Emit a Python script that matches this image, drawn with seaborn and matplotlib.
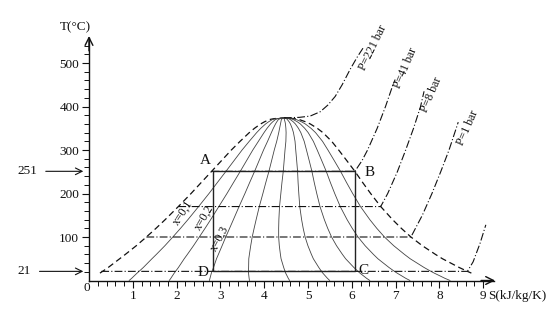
import matplotlib
matplotlib.use("Agg")
import matplotlib.pyplot as plt
import seaborn as sns

# ---------------- data ----------------
# saturation dome: temperature (°C), liquid and vapour entropy (kJ/kg/K)
T_sat = [0.01, 5, 10, 17, 21, 30, 40, 50, 60, 80, 100, 120, 140, 160, 170,
         200, 225, 251, 275, 300, 320, 340, 350, 360, 365, 370, 372, 374]
s_liq = [0.00, 0.08, 0.15, 0.25, 0.31, 0.44, 0.57, 0.70, 0.83, 1.08, 1.31,
         1.53, 1.74, 1.94, 2.04, 2.33, 2.56, 2.80, 3.02, 3.25, 3.45, 3.66,
         3.78, 3.92, 4.01, 4.12, 4.22, 4.45]
s_vap = [9.16, 9.02, 8.90, 8.73, 8.64, 8.45, 8.26, 8.07, 7.91, 7.61, 7.35,
         7.13, 6.93, 6.75, 6.66, 6.43, 6.25, 6.07, 5.89, 5.70, 5.54, 5.34,
         5.21, 5.05, 4.94, 4.80, 4.70, 4.45]
dome_start_T = 17

# vapour-quality lines drawn inside the dome
qualities = [0.1, 0.2, 0.3, 0.4, 0.5, 0.6, 0.7, 0.8, 0.9]
quality_labels = ["x=0,1", "x=0,2", "x=0,3"]

# isobars (entropy, temperature)
p_0025_s = [0.28, 8.64, 8.77, 8.93, 9.06]
p_0025_T = [21, 21, 43, 86, 128]
p_1_s = [1.31, 7.35, 7.61, 7.83, 8.03, 8.22, 8.43]
p_1_T = [100, 100, 150, 200, 250, 300, 364]
p_8_s = [2.04, 6.66, 6.82, 7.04, 7.23, 7.41, 7.57, 7.65]
p_8_T = [170, 170, 200, 250, 300, 350, 400, 435]
p_41_s = [2.80, 6.07, 6.23, 6.36, 6.58, 6.77, 6.94, 6.99]
p_41_T = [251, 251, 275, 300, 350, 400, 450, 462]
p_221_s = [4.45, 4.80, 5.05, 5.28, 5.45, 5.62, 5.78, 5.96, 6.12, 6.28]
p_221_T = [374, 375, 378, 388, 403, 423, 450, 485, 513, 538]
pressure_labels = ["P=221 bar", "P=41 bar", "P=8 bar", "P=1 bar"]

# cycle A-B-C-D
cycle_names = ["A", "B", "C", "D"]
cycle_s = [2.82, 6.08, 6.08, 2.82]
cycle_T = [251, 251, 21, 21]

x_ticks = [1, 2, 3, 4, 5, 6, 7, 8, 9]
y_ticks = [100, 200, 300, 400, 500]
marked_T = [251, 21]

# ---------------- figure ----------------
sns.set_theme(style="white")
plt.rcParams["font.family"] = ["Liberation Serif", "DejaVu Serif"]
plt.rcParams["text.color"] = "#111111"

W, H = 552, 312
fig = plt.figure(figsize=(W / 100, H / 100), dpi=100)
fig.patch.set_facecolor("white")
# pixel mapping: x_px = 89 + 43.8*S ; y_px = 280.5 - 0.435*T
x0_px, y0_px, sx, sy = 89.0, 280.5, 43.8, 0.435
xmax, ymax = 9.25, 558
ax = fig.add_axes([x0_px / W, (H - y0_px) / H, xmax * sx / W, ymax * sy / H])
ax.set_facecolor("white")
ax.set_xlim(0, xmax)
ax.set_ylim(0, ymax)

ink = "#111111"


def line(s, T, **kw):
    sns.lineplot(x=s, y=T, sort=False, estimator=None, ax=ax, legend=False, **kw)


# dome
left = [(s, t) for s, t in zip(s_liq, T_sat) if t >= dome_start_T]
right = [(s, t) for s, t in zip(s_vap, T_sat) if t >= dome_start_T][::-1]
dome = left + right[1:]
line([p[0] for p in dome], [p[1] for p in dome], color=ink, lw=0.9,
     linestyle=(0, (5, 3)))

# quality lines
for q in qualities:
    qs = [a + q * (b - a) for a, b in zip(s_liq, s_vap)]
    line(qs, T_sat, color="#444444", lw=0.6)

# isobars
dashdot = (0, (7, 2, 1, 2))
for s, T in [(p_0025_s, p_0025_T), (p_1_s, p_1_T), (p_8_s, p_8_T),
             (p_41_s, p_41_T), (p_221_s, p_221_T)]:
    line(s, T, color=ink, lw=0.8, linestyle=dashdot)

# cycle rectangle
line(cycle_s + cycle_s[:1], cycle_T + cycle_T[:1], color="#222222", lw=1.0)


def px2data(px, py):
    return (px - x0_px) / sx, (y0_px - py) / sy


# A B C D labels
for name, (px, py) in zip(cycle_names, [(205, 160), (370, 173), (363, 271), (203, 272)]):
    ax.text(*px2data(px, py), name, fontsize=11, ha="center", va="center")

# quality labels
for lab, (px, py), rot in zip(quality_labels, [(183, 213), (204, 218), (220, 238)], [57, 60, 62]):
    ax.text(*px2data(px, py), lab, fontsize=8.5, ha="center", va="center", rotation=rot)

# pressure labels
for lab, (px, py), rot in zip(pressure_labels,
                              [(373, 48), (406, 68), (432, 95), (468, 128)],
                              [64, 67, 67, 66]):
    ax.text(*px2data(px, py), lab, fontsize=8.5, ha="center", va="center", rotation=rot)

# axes styling
for side in ["top", "right"]:
    ax.spines[side].set_visible(False)
for side in ["left", "bottom"]:
    ax.spines[side].set_color(ink)
    ax.spines[side].set_linewidth(1.0)
ax.set_xticks(x_ticks)
ax.set_xticklabels([str(v) for v in x_ticks])
ax.set_yticks(y_ticks)
ax.set_yticklabels([str(v) for v in y_ticks])
ax.set_xticks([i * 0.2 for i in range(1, 46) if i % 5 != 0], minor=True)
ax.set_yticks([i * 20 for i in range(1, 28) if i % 5 != 0], minor=True)
ax.tick_params(which="major", direction="out", length=5, width=0.8, color=ink,
               labelsize=9.5, labelcolor=ink, pad=2, bottom=True, left=True)
ax.tick_params(which="minor", direction="out", length=3.5, width=0.7, color=ink,
               bottom=True, left=True)
ax.grid(False)

# axis arrowheads
ax.annotate("", xy=(xmax + 0.02, 0), xytext=(xmax - 0.3, 0),
            arrowprops=dict(arrowstyle="->", lw=1.0, color=ink, mutation_scale=14,
                            shrinkA=0, shrinkB=0), annotation_clip=False)
ax.annotate("", xy=(0, ymax + 4), xytext=(0, ymax - 30),
            arrowprops=dict(arrowstyle="->", lw=1.0, color=ink, mutation_scale=14,
                            shrinkA=0, shrinkB=0), annotation_clip=False)

# axis titles and origin
fig.text(75 / W, 1 - 27 / H, "T(°C)", fontsize=9.5, ha="center", va="center")
fig.text(488 / W, 1 - 296 / H, "S(kJ/kg/K)", fontsize=9.5, ha="left", va="center")
fig.text(87 / W, 1 - 288 / H, "0", fontsize=9.5, ha="center", va="center")

# marked temperatures with arrows
for T, tx in zip(marked_T, [27, 24]):
    ax.annotate(str(T), xy=(-0.13, T), xytext=((tx - x0_px) / sx, T),
                fontsize=9.5, ha="center", va="center",
                arrowprops=dict(arrowstyle="->", lw=0.8, color=ink,
                                mutation_scale=12, shrinkA=4, shrinkB=0),
                annotation_clip=False)

fig.savefig("out.png", dpi=100, facecolor="white")
